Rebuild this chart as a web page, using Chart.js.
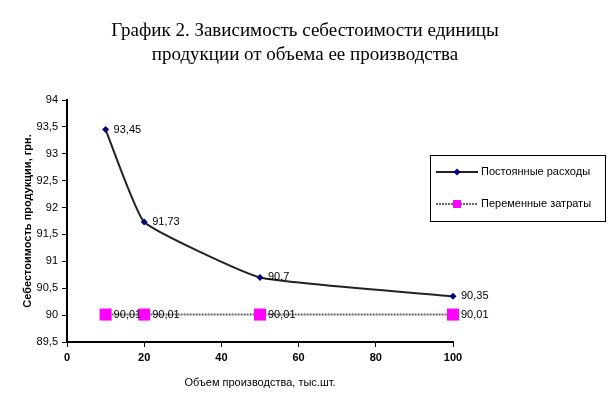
<!DOCTYPE html>
<html>
<head>
<meta charset="utf-8">
<script src="https://cdn.jsdelivr.net/npm/chart.js@4"></script>
<style>
  html, body { margin: 0; padding: 0; background: #fff; }
  #wrap { position: relative; width: 612px; height: 394px; }
</style>
</head>
<body>
<div id="wrap"><canvas id="costChart" width="612" height="394"></canvas></div>
<script>
// Chart data
const volumes = [10, 20, 50, 100];
const fixedCosts = [93.45, 91.73, 90.7, 90.35];
const variableCosts = [90.01, 90.01, 90.01, 90.01];
const seriesNames = ["Постоянные расходы", "Переменные затраты"];
const titleLines = ["График 2. Зависимость себестоимости единицы", "продукции от объема ее производства"];
const xTitle = "Объем производства, тыс.шт.";
const yTitle = "Себестоимость продукции, грн.";

const fmt = v => String(v).replace(".", ",");
const toPoints = ys => volumes.map((x, i) => ({ x: x, y: ys[i] }));

// draws title, y title, value labels and the boxed legend
const decorPlugin = {
  id: "decor",
  afterDraw(chart) {
    const c = chart.ctx;
    const area = chart.chartArea;
    c.save();
    c.fillStyle = "#000";
    c.textAlign = "center";
    c.textBaseline = "middle";
    c.font = "19px 'Liberation Serif'";
    c.fillText(titleLines[0], 305, 31);
    c.fillText(titleLines[1], 305, 55);

    c.save();
    c.translate(28, (area.top + area.bottom) / 2);
    c.rotate(-Math.PI / 2);
    c.font = "bold 11px 'Liberation Sans'";
    c.fillText(yTitle, 0, 0);
    c.restore();

    c.font = "11px 'Liberation Sans'";
    c.textAlign = "left";
    chart.data.datasets.forEach((ds, di) => {
      chart.getDatasetMeta(di).data.forEach((pt, i) => {
        c.fillText(fmt(ds.data[i].y), pt.x + 8, pt.y);
      });
    });

    // legend box
    c.strokeStyle = "#000";
    c.lineWidth = 1;
    c.strokeRect(430.5, 155.5, 175, 66);
    const rows = [172, 204];
    chart.data.datasets.forEach((ds, di) => {
      const y = rows[di];
      c.strokeStyle = ds.borderColor;
      c.lineWidth = 2;
      c.setLineDash(ds.borderDash || []);
      c.beginPath();
      c.moveTo(436, y);
      c.lineTo(478, y);
      c.stroke();
      c.setLineDash([]);
      c.fillStyle = ds.pointBackgroundColor;
      if (di === 0) {
        c.beginPath();
        c.moveTo(457, y - 3.5); c.lineTo(460.5, y); c.lineTo(457, y + 3.5); c.lineTo(453.5, y);
        c.closePath(); c.fill();
      } else {
        c.fillRect(453, y - 4, 8, 8);
      }
      c.fillStyle = "#000";
      c.font = "11px 'Liberation Sans'";
      c.fillText(ds.label, 481, y);
    });
    c.restore();
  }
};

new Chart(document.getElementById("costChart"), {
  type: "line",
  data: {
    datasets: [
      {
        label: seriesNames[0],
        data: toPoints(fixedCosts),
        borderColor: "#222",
        borderWidth: 2,
        tension: 0.12,
        clip: false,
        pointStyle: "rectRot",
        pointRadius: 3.5,
        pointBackgroundColor: "#000080",
        pointBorderColor: "#000080",
        pointBorderWidth: 0
      },
      {
        label: seriesNames[1],
        data: toPoints(variableCosts),
        borderColor: "#666",
        borderWidth: 2,
        borderDash: [2, 1],
        tension: 0,
        clip: false,
        pointStyle: "rect",
        pointRadius: 8.5,
        pointBackgroundColor: "#ff00ff",
        pointBorderColor: "#ff00ff",
        pointBorderWidth: 0
      }
    ]
  },
  options: {
    responsive: false,
    animation: false,
    layout: { padding: { top: 100, right: 159, left: 0, bottom: 0 } },
    plugins: { legend: { display: false }, title: { display: false }, tooltip: { enabled: false } },
    scales: {
      x: {
        type: "linear",
        min: 0,
        max: 100,
        ticks: { stepSize: 20, color: "#000", font: { family: "Liberation Sans", size: 11, weight: "bold" }, padding: 4 },
        grid: { drawOnChartArea: false, color: "#000", tickLength: 5 },
        border: { color: "#000", width: 2 },
        title: { display: true, text: xTitle, color: "#000", font: { family: "Liberation Sans", size: 11 }, padding: { top: 10 } },
        afterFit(s) { s.height = 52; }
      },
      y: {
        min: 89.5,
        max: 94,
        ticks: { stepSize: 0.5, color: "#000", font: { family: "Liberation Sans", size: 11 }, callback: v => fmt(v), padding: 4 },
        grid: { drawOnChartArea: false, color: "#000", tickLength: 5 },
        border: { color: "#000", width: 2 },
        afterFit(s) { s.width = 67; }
      }
    }
  },
  plugins: [decorPlugin]
});
</script>
</body>
</html>
